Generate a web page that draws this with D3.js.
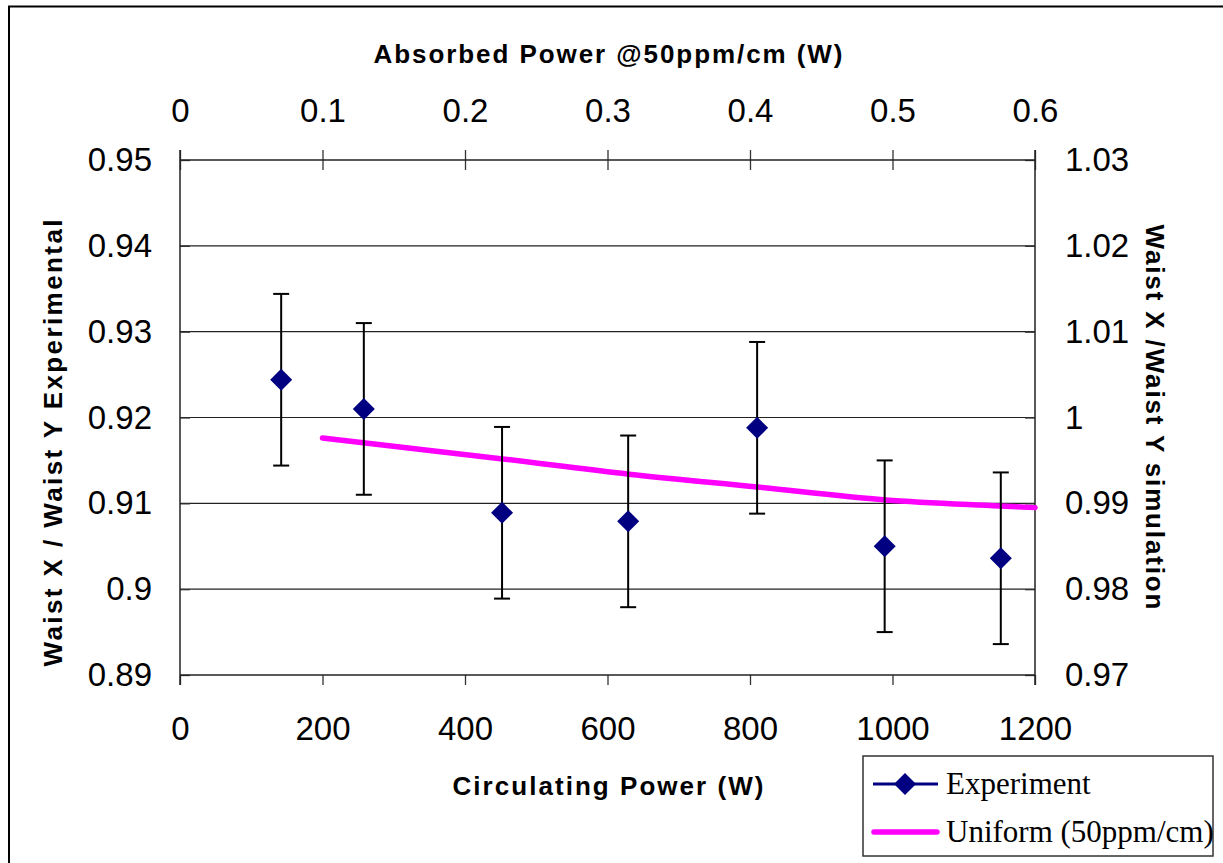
<!DOCTYPE html>
<html>
<head>
<meta charset="utf-8">
<script src="https://cdn.jsdelivr.net/npm/d3@7"></script>
<style>
  body { margin: 0; background: #fff; }
  svg { display: block; }
</style>
</head>
<body>
<svg width="1223" height="863"></svg>
<script>
// measured data
const expPower = [142, 258, 452, 629, 810, 989, 1152];
const expRatio = [0.9244, 0.9210, 0.9089, 0.9079, 0.9188, 0.9050, 0.9036];
const expErr = [0.01, 0.01, 0.01, 0.01, 0.01, 0.01, 0.01];

// simulation curve (right axis)
const simPower = [200, 450, 630, 810, 990, 1150, 1200];
const simRatio = [0.9976, 0.9952, 0.9934, 0.9919, 0.9904, 0.9897, 0.9895];

const bottomTicks = [0, 200, 400, 600, 800, 1000, 1200];
const topTicks = [0, 0.1, 0.2, 0.3, 0.4, 0.5, 0.6];
const leftTicks = [0.89, 0.90, 0.91, 0.92, 0.93, 0.94, 0.95];
const rightTicks = [0.97, 0.98, 0.99, 1.00, 1.01, 1.02, 1.03];

const svg = d3.select("svg");
const margin = { left: 180, right: 1035, top: 160, bottom: 675 };

const x = d3.scaleLinear().domain([0, 1200]).range([margin.left, margin.right]);
const xTop = d3.scaleLinear().domain([0, 0.6]).range([margin.left, margin.right]);
const y = d3.scaleLinear().domain([0.89, 0.95]).range([margin.bottom, margin.top]);
const yRight = d3.scaleLinear().domain([0.97, 1.03]).range([margin.bottom, margin.top]);

// outer frame
svg.append("rect")
  .attr("x", 9).attr("y", 6.5)
  .attr("width", 1230).attr("height", 870)
  .attr("fill", "none").attr("stroke", "#000").attr("stroke-width", 2);

// gridlines
svg.append("g").selectAll("line")
  .data(leftTicks.slice(1, -1))
  .join("line")
  .attr("x1", margin.left).attr("x2", margin.right)
  .attr("y1", d => y(d)).attr("y2", d => y(d))
  .attr("stroke", "#222").attr("stroke-width", 1.2);

const tickFont = "Liberation Sans, Arial, sans-serif";

function styleAxis(g) {
  g.select(".domain").remove();
  g.selectAll(".tick line").attr("stroke", "#333").attr("stroke-width", 1.3);
  g.selectAll(".tick text")
    .attr("font-family", tickFont)
    .attr("font-size", 33)
    .attr("fill", "#000");
}

// bottom axis
svg.append("g")
  .attr("transform", `translate(0,${margin.bottom})`)
  .call(d3.axisBottom(x).tickValues(bottomTicks).tickSize(10).tickPadding(32).tickFormat(d3.format("d")))
  .call(styleAxis);

// top axis (ticks crossing)
svg.append("g")
  .attr("transform", `translate(0,${margin.top})`)
  .call(d3.axisTop(xTop).tickValues(topTicks).tickSize(10).tickPadding(28).tickFormat(d => d === 0 ? "0" : d3.format(".1f")(d)))
  .call(styleAxis)
  .call(g => g.selectAll(".tick line").attr("y2", 10).attr("y1", -10));

// left axis
svg.append("g")
  .attr("transform", `translate(${margin.left},0)`)
  .call(d3.axisLeft(y).tickValues(leftTicks).tickSize(-10).tickPadding(28).tickFormat(d => d === 0.9 ? "0.9" : d3.format(".2f")(d)))
  .call(styleAxis);

// right axis
svg.append("g")
  .attr("transform", `translate(${margin.right},0)`)
  .call(d3.axisRight(yRight).tickValues(rightTicks).tickSize(-10).tickPadding(30).tickFormat(d => d === 1 ? "1" : d3.format(".2f")(d)))
  .call(styleAxis);

// frame lines of plot area
const frame = svg.append("g").attr("stroke", "#222").attr("stroke-width", 1.5);
frame.append("line").attr("x1", margin.left).attr("x2", margin.left).attr("y1", margin.top - 10).attr("y2", margin.bottom + 10);
frame.append("line").attr("x1", margin.right).attr("x2", margin.right).attr("y1", margin.top - 10).attr("y2", margin.bottom + 10);
frame.append("line").attr("x1", margin.left).attr("x2", margin.right).attr("y1", margin.top).attr("y2", margin.top);
frame.append("line").attr("x1", margin.left).attr("x2", margin.right).attr("y1", margin.bottom).attr("y2", margin.bottom);

// simulation line
const simData = simPower.map((p, i) => ({ p, v: simRatio[i] }));
svg.append("path")
  .datum(simData)
  .attr("fill", "none")
  .attr("stroke", "#ff00ff")
  .attr("stroke-width", 5.5)
  .attr("stroke-linecap", "round")
  .attr("d", d3.line().x(d => x(d.p)).y(d => yRight(d.v)).curve(d3.curveMonotoneX));

// error bars
const expData = expPower.map((p, i) => ({ p, v: expRatio[i], e: expErr[i] }));
const eb = svg.append("g").attr("stroke", "#000").attr("stroke-width", 2);
eb.selectAll(".stem").data(expData).join("line")
  .attr("x1", d => x(d.p)).attr("x2", d => x(d.p))
  .attr("y1", d => y(d.v + d.e)).attr("y2", d => y(d.v - d.e));
eb.selectAll(".capTop").data(expData).join("line")
  .attr("x1", d => x(d.p) - 8).attr("x2", d => x(d.p) + 8)
  .attr("y1", d => y(d.v + d.e)).attr("y2", d => y(d.v + d.e));
eb.selectAll(".capBot").data(expData).join("line")
  .attr("x1", d => x(d.p) - 8).attr("x2", d => x(d.p) + 8)
  .attr("y1", d => y(d.v - d.e)).attr("y2", d => y(d.v - d.e));

// diamonds
const diamond = "M0,-11L11,0L0,11L-11,0Z";
svg.append("g").selectAll("path")
  .data(expData).join("path")
  .attr("transform", d => `translate(${x(d.p)},${y(d.v)})`)
  .attr("d", diamond)
  .attr("fill", "#000080");

// axis titles
const titleFont = "Liberation Sans, Arial, sans-serif";
function title(t, len) {
  t.attr("text-anchor", "middle")
    .attr("font-family", titleFont).attr("font-weight", "bold").attr("font-size", 26)
    .attr("textLength", len).attr("lengthAdjust", "spacing");
}
svg.append("text")
  .attr("x", 608).attr("y", 63)
  .call(title, 469)
  .text("Absorbed Power @50ppm/cm (W)");

svg.append("text")
  .attr("x", 608).attr("y", 795)
  .call(title, 311)
  .text("Circulating Power (W)");

svg.append("text")
  .attr("transform", "translate(62,443) rotate(-90)")
  .call(title, 447)
  .text("Waist X / Waist Y Experimental");

svg.append("text")
  .attr("transform", "translate(1146,417) rotate(90)")
  .call(title, 385)
  .text("Waist X /Waist Y simulation");

// legend
const legend = svg.append("g");
legend.append("rect")
  .attr("x", 863).attr("y", 756).attr("width", 350).attr("height", 100)
  .attr("fill", "#fff").attr("stroke", "#333").attr("stroke-width", 1.5);
legend.append("line")
  .attr("x1", 873).attr("x2", 938).attr("y1", 784).attr("y2", 784)
  .attr("stroke", "#000080").attr("stroke-width", 3);
legend.append("path")
  .attr("transform", "translate(905,784)")
  .attr("d", diamond).attr("fill", "#000080");
legend.append("line")
  .attr("x1", 874).attr("x2", 937).attr("y1", 832).attr("y2", 832)
  .attr("stroke", "#ff00ff").attr("stroke-width", 5.5).attr("stroke-linecap", "round");
legend.append("text")
  .attr("x", 946).attr("y", 794)
  .attr("font-family", "Liberation Serif, Times New Roman, serif").attr("font-size", 31)
  .text("Experiment");
legend.append("text")
  .attr("x", 946).attr("y", 842)
  .attr("font-family", "Liberation Serif, Times New Roman, serif").attr("font-size", 31)
  .text("Uniform (50ppm/cm)");
</script>
</body>
</html>
